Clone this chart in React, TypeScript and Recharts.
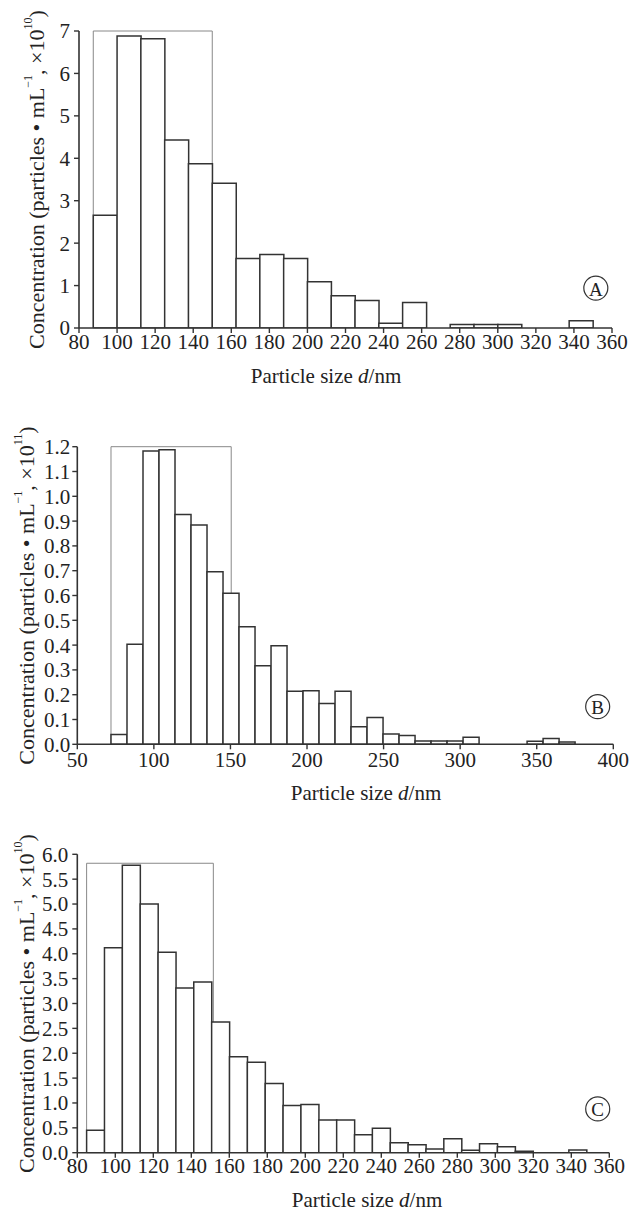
import React from 'react';
import { BarChart, Bar, XAxis, YAxis, ReferenceArea, ReferenceDot } from 'recharts';

const FONT = 'Liberation Serif';
const AXIS = '#333333';
const TXT = '#222222';

// ---------- Panel A ----------
const aBinCenters = [93.75, 106.25, 118.75, 131.25, 143.75, 156.25, 168.75, 181.25, 193.75, 206.25, 218.75, 231.25, 243.75, 256.25, 268.75, 281.25, 293.75, 306.25, 318.75, 331.25, 343.75];
const aValues = [2.66, 6.88, 6.82, 4.43, 3.87, 3.41, 1.64, 1.73, 1.64, 1.09, 0.76, 0.65, 0.11, 0.6, 0, 0.08, 0.08, 0.08, 0, 0, 0.17];
const aXTicks = [80, 100, 120, 140, 160, 180, 200, 220, 240, 260, 280, 300, 320, 340, 360];
const aYTicks = [0, 1, 2, 3, 4, 5, 6, 7];

// ---------- Panel B ----------
const bBinCenters = [77.23, 87.68, 98.13, 108.58, 119.03, 129.48, 139.93, 150.38, 160.83, 171.28, 181.73, 192.18, 202.63, 213.08, 223.53, 233.98, 244.43, 254.88, 265.33, 275.78, 286.23, 296.68, 307.13, 317.58, 328.03, 338.48, 348.93, 359.38, 369.83];
const bValues = [0.04, 0.403, 1.183, 1.188, 0.927, 0.884, 0.696, 0.609, 0.474, 0.317, 0.397, 0.214, 0.216, 0.165, 0.214, 0.071, 0.108, 0.042, 0.035, 0.013, 0.013, 0.013, 0.028, 0, 0, 0, 0.012, 0.023, 0.009];
const bXTicks = [50, 100, 150, 200, 250, 300, 350, 400];
const bYTicks = [0, 0.1, 0.2, 0.3, 0.4, 0.5, 0.6, 0.7, 0.8, 0.9, 1.0, 1.1, 1.2];

// ---------- Panel C ----------
const cBinCenters = [89.6, 99.0, 108.4, 117.8, 127.2, 136.6, 146.0, 155.4, 164.8, 174.2, 183.6, 193.0, 202.4, 211.8, 221.2, 230.6, 240.0, 249.4, 258.8, 268.2, 277.6, 287.0, 296.4, 305.8, 315.2, 324.6, 334.0, 343.4];
const cValues = [0.45, 4.12, 5.78, 5.0, 4.03, 3.31, 3.43, 2.63, 1.93, 1.82, 1.39, 0.95, 0.97, 0.66, 0.66, 0.36, 0.49, 0.2, 0.16, 0.074, 0.28, 0.047, 0.18, 0.12, 0.027, 0, 0, 0.054];
const cXTicks = [80, 100, 120, 140, 160, 180, 200, 220, 240, 260, 280, 300, 320, 340, 360];
const cYTicks = [0, 0.5, 1.0, 1.5, 2.0, 2.5, 3.0, 3.5, 4.0, 4.5, 5.0, 5.5, 6.0];

type PanelProps = {
  top: number;
  height: number;
  margin: { top: number; right: number; bottom: number; left: number };
  yWidth: number;
  centers: number[];
  values: number[];
  xDomain: [number, number];
  xTicks: number[];
  yDomain: [number, number];
  yTicks: number[];
  yDigits: number;
  box: { x1: number; x2: number; y2: number };
  letter: string;
  letterAt: { x: number; y: number };
  exp: string;
  yLabelX: number;
  titleX: number;
  titleDy: number;
  xTickMargin: number;
  yTickMargin: number;
};

function Panel(p: PanelProps) {
  const data = p.centers.map((x, i) => ({ x, v: p.values[i] }));
  const yLabel = (props: any) => {
    const vb = props.viewBox || {};
    const cx = p.yLabelX;
    const cy = (vb.y || 0) + (vb.height || 0) / 2;
    return (
      <text
        x={cx}
        y={cy}
        transform={`rotate(-90 ${cx} ${cy})`}
        textAnchor="middle"
        dominantBaseline="central"
        fontSize={22}
        fill={TXT}
        style={{ fontFamily: FONT }}
      >
        Concentration (particles • mL
        <tspan dy={-8} fontSize={12}>−1</tspan>
        <tspan dy={8}>, ×10</tspan>
        <tspan dy={-8} fontSize={12}>{p.exp}</tspan>
        <tspan dy={8}>)</tspan>
      </text>
    );
  };
  const xTitle = (props: any) => {
    const vb = props.viewBox || {};
    return (
      <text x={p.titleX} y={(vb.y || 0) + p.titleDy} textAnchor="middle" fontSize={21} fill={TXT} style={{ fontFamily: FONT }}>
        Particle size <tspan fontStyle="italic">d</tspan>/nm
      </text>
    );
  };
  const letterLabel = (props: any) => {
    const vb = props.viewBox || {};
    const cx = (vb.x || 0) + (vb.width || 0) / 2;
    const cy = (vb.y || 0) + (vb.height || 0) / 2;
    return (
      <text x={cx} y={cy + 1} textAnchor="middle" dominantBaseline="central" fontSize={19} fill={TXT} style={{ fontFamily: FONT }}>
        {p.letter}
      </text>
    );
  };
  const tickStyle = { fontSize: 21, fontFamily: FONT, fill: TXT, style: { fontFamily: FONT } };
  return (
    <div style={{ position: 'absolute', left: 0, top: p.top, width: 642, height: p.height, fontFamily: FONT }}>
      <BarChart width={642} height={p.height} data={data} margin={p.margin} barCategoryGap={0} barGap={0} style={{ fontFamily: FONT }}>
        <XAxis
          dataKey="x"
          type="number"
          domain={p.xDomain}
          ticks={p.xTicks}
          interval={0}
          allowDataOverflow
          height={60}
          tick={tickStyle}
          tickSize={5}
          tickMargin={p.xTickMargin}
          axisLine={{ stroke: AXIS, strokeWidth: 1.6 }}
          tickLine={{ stroke: AXIS, strokeWidth: 1.4 }}
          label={{ content: xTitle }}
        />
        <YAxis
          type="number"
          width={p.yWidth}
          domain={p.yDomain}
          ticks={p.yTicks}
          interval={0}
          allowDataOverflow
          tick={tickStyle}
          tickSize={5}
          tickMargin={p.yTickMargin}
          tickFormatter={(v: number) => v.toFixed(p.yDigits)}
          axisLine={{ stroke: AXIS, strokeWidth: 1.6 }}
          tickLine={{ stroke: AXIS, strokeWidth: 1.4 }}
          label={{ content: yLabel }}
        />
        <Bar dataKey="v" fill="#ffffff" stroke={AXIS} strokeWidth={1.5} isAnimationActive={false} />
        <ReferenceArea
          x1={p.box.x1}
          x2={p.box.x2}
          y1={0}
          y2={p.box.y2}
          fill="none"
          fillOpacity={0}
          stroke="#888888"
          strokeWidth={1}
          ifOverflow="extendDomain"
        />
        <ReferenceDot
          x={p.letterAt.x}
          y={p.letterAt.y}
          r={12}
          fill="none"
          stroke={AXIS}
          strokeWidth={1.2}
          label={{ content: letterLabel }}
        />
      </BarChart>
    </div>
  );
}

export default function App() {
  return (
    <div style={{ position: 'absolute', left: 0, top: 0, width: 642, height: 1214, background: '#ffffff', overflow: 'hidden', fontFamily: FONT }}>
      <Panel
        top={0}
        height={400}
        margin={{ top: 31, right: 30, bottom: 12, left: 0 }}
        yWidth={79}
        centers={aBinCenters}
        values={aValues}
        xDomain={[80, 360]}
        xTicks={aXTicks}
        yDomain={[0, 7]}
        yTicks={aYTicks}
        yDigits={0}
        box={{ x1: 87.5, x2: 150, y2: 7 }}
        letter="A"
        letterAt={{ x: 351.5, y: 0.94 }}
        exp="10"
        yLabelX={36}
        titleX={326}
        titleDy={55}
        xTickMargin={1}
        yTickMargin={4}
      />
      <Panel
        top={400}
        height={420}
        margin={{ top: 46.7, right: 28.7, bottom: 15.7, left: 0 }}
        yWidth={77.3}
        centers={bBinCenters}
        values={bValues}
        xDomain={[50, 400]}
        xTicks={bXTicks}
        yDomain={[0, 1.2]}
        yTicks={bYTicks}
        yDigits={1}
        box={{ x1: 72, x2: 150.5, y2: 1.2 }}
        letter="B"
        letterAt={{ x: 389.8, y: 0.152 }}
        exp="11"
        yLabelX={26}
        titleX={366}
        titleDy={55.7}
        xTickMargin={3}
        yTickMargin={2}
      />
      <Panel
        top={820}
        height={394}
        margin={{ top: 34.3, right: 32.7, bottom: 1.3, left: 0 }}
        yWidth={77.3}
        centers={cBinCenters}
        values={cValues}
        xDomain={[80, 360]}
        xTicks={cXTicks}
        yDomain={[0, 6]}
        yTicks={cYTicks}
        yDigits={1}
        box={{ x1: 84.9, x2: 151.6, y2: 5.82 }}
        letter="C"
        letterAt={{ x: 353.9, y: 0.88 }}
        exp="10"
        yLabelX={26}
        titleX={367}
        titleDy={54}
        xTickMargin={0}
        yTickMargin={4}
      />
    </div>
  );
}
